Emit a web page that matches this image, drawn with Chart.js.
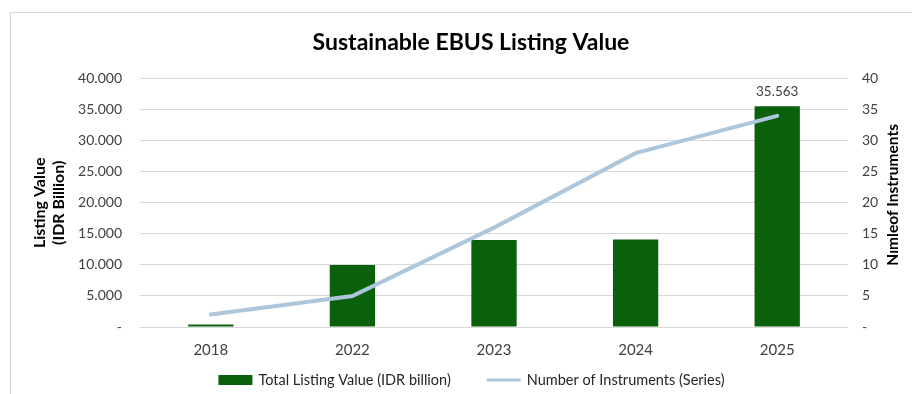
<!DOCTYPE html>
<html>
<head>
<meta charset="utf-8">
<script src="https://cdn.jsdelivr.net/npm/chart.js@4.4.1/dist/chart.umd.min.js"></script>
<style>
    html, body { margin: 0; padding: 0; background: #fff; }
    #wrap { position: relative; width: 912px; height: 394px; overflow: hidden; }
    /* рамка области диаграммы */
    #frame { position: absolute; left: 10px; top: 12px; width: 920px; height: 400px;
             border-left: 1px solid #d6d6d6; border-top: 1px solid #d6d6d6; }
    canvas { position: absolute; left: 0; top: 0; }
</style>
</head>
<body>
<div id="wrap">
    <div id="frame"></div>
    <canvas id="barChart" width="912" height="394"></canvas>
</div>
<script>
// Данные графика
const years = ['2018', '2022', '2023', '2024', '2025'];
const listingValues = [400, 10000, 14000, 14100, 35563];
const instrumentCounts = [2, 5, 16, 28, 34];
const labelledBars = [4];

const FONT = 'Lato, "Open Sans", sans-serif';
const RIGHT_TITLE = 'Nımleof Instruments';

// Формат чисел с точкой как разделителем тысяч, ноль как "-"
function formatIdr(v) {
    if (v === 0) return '-';
    return String(Math.round(v)).replace(/\B(?=(\d{3})+(?!\d))/g, '.');
}

// Подпись значения над столбцом
const barValueLabels = {
    id: 'barValueLabels',
    afterDatasetsDraw(chart) {
        const ctx = chart.ctx;
        const meta = chart.getDatasetMeta(0);
        ctx.save();
        ctx.font = '13.5px ' + FONT;
        ctx.fillStyle = '#404040';
        ctx.textAlign = 'center';
        ctx.textBaseline = 'bottom';
        labelledBars.forEach(i => {
            const bar = meta.data[i];
            ctx.fillText(formatIdr(listingValues[i]), bar.x, bar.y - 8);
        });
        ctx.restore();
    }
};

// Заголовок правой оси, читается снизу вверх
const rightAxisTitle = {
    id: 'rightAxisTitle',
    afterDraw(chart) {
        const ctx = chart.ctx;
        const area = chart.chartArea;
        ctx.save();
        ctx.translate(893, (area.top + area.bottom) / 2 - 8);
        ctx.rotate(-Math.PI / 2);
        ctx.font = 'bold 15.5px ' + FONT;
        ctx.fillStyle = '#000';
        ctx.textAlign = 'center';
        ctx.textBaseline = 'middle';
        ctx.fillText(RIGHT_TITLE, 0, 0);
        ctx.restore();
    }
};

// Легенда внизу: прямоугольник для столбцов, отрезок для линии
const bottomLegend = {
    id: 'bottomLegend',
    afterDraw(chart) {
        const ctx = chart.ctx;
        const sets = chart.data.datasets;
        const y = 380;
        const markW = 34, markGap = 6, itemGap = 36;
        ctx.save();
        ctx.font = '14.5px ' + FONT;
        const widths = sets.map(ds => markW + markGap + ctx.measureText(ds.label).width);
        const total = widths.reduce((a, b) => a + b, 0) + itemGap * (sets.length - 1);
        let x = 471.5 - total / 2;
        sets.forEach((ds, i) => {
            if (ds.type === 'line') {
                ctx.strokeStyle = ds.borderColor;
                ctx.lineWidth = 3;
                ctx.beginPath();
                ctx.moveTo(x, y);
                ctx.lineTo(x + markW, y);
                ctx.stroke();
            } else {
                ctx.fillStyle = ds.backgroundColor;
                ctx.fillRect(x, y - 5, markW, 10);
            }
            ctx.fillStyle = '#262626';
            ctx.textAlign = 'left';
            ctx.textBaseline = 'middle';
            ctx.fillText(ds.label, x + markW + markGap, y);
            x += widths[i] + itemGap;
        });
        ctx.restore();
    }
};

document.addEventListener('DOMContentLoaded', function () {
    const ctx = document.getElementById('barChart').getContext('2d');

    new Chart(ctx, {
        type: 'bar',
        data: {
            labels: years,
            datasets: [{
                label: 'Total Listing Value (IDR billion)',
                data: listingValues,
                backgroundColor: '#0b600b',
                yAxisID: 'y',
                categoryPercentage: 1,
                barPercentage: 0.32,
                order: 2
            }, {
                type: 'line',
                label: 'Number of Instruments (Series)',
                data: instrumentCounts,
                borderColor: '#adc6db',
                backgroundColor: '#adc6db',
                borderWidth: 4,
                borderCapStyle: 'round',
                pointRadius: 0,
                tension: 0,
                yAxisID: 'y1',
                order: 1
            }]
        },
        options: {
            responsive: false,
            animation: false,
            layout: { padding: { left: 30, right: 0, top: 14, bottom: 37 } },
            plugins: {
                title: {
                    display: true,
                    text: 'Sustainable EBUS Listing Value',
                    color: '#000',
                    font: { family: FONT, size: 23, weight: 'bold' },
                    padding: { top: 15, bottom: 22 }
                },
                legend: { display: false },
                tooltip: { enabled: false }
            },
            scales: {
                x: {
                    grid: { display: false },
                    border: { display: false },
                    ticks: { color: '#404040', font: { family: FONT, size: 15 }, padding: 6 },
                    afterFit(scale) { scale.height = 30; }
                },
                y: {
                    position: 'left',
                    min: 0,
                    max: 40000,
                    ticks: {
                        stepSize: 5000,
                        color: '#404040',
                        font: { family: FONT, size: 14 },
                        padding: 18,
                        callback: v => formatIdr(v)
                    },
                    grid: { color: '#d9d9d9', drawTicks: false },
                    border: { display: false },
                    title: {
                        display: true,
                        text: ['Listing Value', '(IDR Billion)'],
                        color: '#000',
                        font: { family: FONT, size: 16, weight: 'bold' },
                        padding: { top: 0, bottom: 2 }
                    },
                    afterFit(scale) { scale.width = 110; }
                },
                y1: {
                    position: 'right',
                    min: 0,
                    max: 40,
                    ticks: {
                        stepSize: 5,
                        color: '#404040',
                        font: { family: FONT, size: 14 },
                        padding: 14,
                        callback: v => (v === 0 ? '-' : v)
                    },
                    grid: { display: false, drawTicks: false },
                    border: { display: false },
                    afterFit(scale) { scale.width = 64; }
                }
            }
        },
        plugins: [barValueLabels, rightAxisTitle, bottomLegend]
    });
});
</script>
</body>
</html>
